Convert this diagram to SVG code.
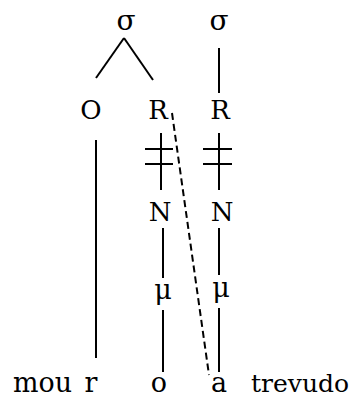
<svg xmlns="http://www.w3.org/2000/svg" width="353" height="399" viewBox="0 0 353 399">
<style>
text{font-family:'DejaVu Serif','Liberation Serif',serif;fill:#000;text-anchor:middle}
.lab{font-size:26px}
.sig{font-size:28px}
.mu{font-size:27px}
.w{font-size:27px;text-anchor:start}
.b{font-size:27px}
.ln{stroke:#000;stroke-width:2;fill:none}
.dash{stroke:#000;stroke-width:2;fill:none;stroke-dasharray:7 4}
</style>
<rect width="353" height="399" fill="#fff"/>
<g id="sigma1"><text class="sig" x="126" y="30">σ</text></g>
<g id="sigma2"><text class="sig" x="219" y="30">σ</text></g>
<g id="O"><text class="lab" x="91" y="119">O</text></g>
<g id="R1"><text class="lab" x="158" y="119">R</text></g>
<g id="R2"><text class="lab" x="220" y="119">R</text></g>
<g id="N1"><text class="lab" x="160" y="221">N</text></g>
<g id="N2"><text class="lab" x="222" y="221">N</text></g>
<g id="mu1"><text class="mu" x="163" y="299">μ</text></g>
<g id="mu2"><text class="mu" x="221" y="297">μ</text></g>
<g id="words">
<text class="w" x="13" y="392" textLength="59" lengthAdjust="spacingAndGlyphs">mou</text>
<text class="b" x="91" y="392">r</text>
<text class="b" x="159" y="392">o</text>
<text class="b" x="219" y="392">a</text>
<text class="w" x="251" y="392" style="font-size:25px">trevudo</text>
</g>
<g id="connectors">
<line class="ln" x1="124" y1="38" x2="96" y2="78"/>
<line class="ln" x1="124" y1="38" x2="153" y2="80"/>
<line class="ln" x1="219" y1="48" x2="219" y2="93"/>
<line class="ln" x1="96" y1="140" x2="96" y2="358"/>
<line class="ln" x1="161" y1="133" x2="161" y2="190"/>
<line class="ln" x1="145" y1="149" x2="173" y2="149"/>
<line class="ln" x1="145" y1="164" x2="173" y2="164"/>
<line class="ln" x1="219" y1="133" x2="219" y2="190"/>
<line class="ln" x1="203" y1="149" x2="232" y2="149"/>
<line class="ln" x1="203" y1="164" x2="232" y2="164"/>
<line class="ln" x1="163" y1="228" x2="163" y2="278"/>
<line class="ln" x1="219" y1="228" x2="219" y2="275"/>
<line class="ln" x1="163" y1="310" x2="163" y2="372"/>
<line class="ln" x1="219" y1="308" x2="219" y2="372"/>
<line class="dash" x1="172" y1="113" x2="209" y2="375"/>
</g>
</svg>
